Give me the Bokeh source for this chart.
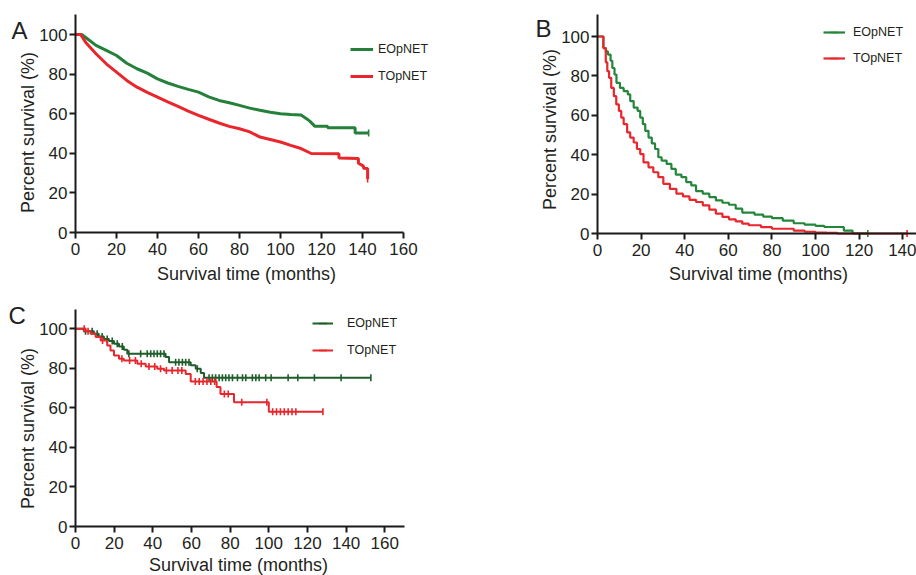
import numpy as np
from bokeh.plotting import figure
from bokeh.models import Range1d, Label, Legend, LegendItem, FixedTicker
from bokeh.layouts import column, row
from bokeh.embed import file_html
from bokeh.resources import INLINE

# ---------------- data ----------------
x_ticks_a = [0, 20, 40, 60, 80, 100, 120, 140, 160]
x_ticks_b = [0, 20, 40, 60, 80, 100, 120, 140]
x_ticks_c = [0, 20, 40, 60, 80, 100, 120, 140, 160]
y_ticks = [0, 20, 40, 60, 80, 100]
series_names = ["EOpNET", "TOpNET"]
x_title = "Survival time (months)"
y_title = "Percent survival (%)"

# Panel A (large cohorts -> near-smooth curves)
a_e_time = [0, 3, 5, 10, 15, 20, 25, 30, 35, 40, 45, 50, 55, 60, 65, 70, 75, 80, 85, 90,
            95, 100, 105, 110, 112.7, 114.4, 116.8, 123, 123, 136.4, 136.4, 143]
a_e_surv = [100, 100, 98.5, 94.5, 92, 89.4, 85.5, 82.7, 80.5, 77.6, 75.5, 73.8, 72.3, 70.9, 68.5,
            66.7, 65.5, 64.2, 62.8, 61.7, 60.7, 60, 59.6, 59.3, 57.5, 56.1, 53.6, 53.6, 52.9,
            52.9, 50.2, 50.2]
a_t_time = [0, 2.5, 5, 10, 15, 20, 25, 30, 35, 40, 45, 50, 55, 60, 65, 70, 75, 80, 85, 90,
            95, 100, 105, 110, 115, 128.5, 128.5, 138, 138, 140.5, 140.5, 142.5, 142.5]
a_t_surv = [100, 100, 96, 90.3, 85.2, 81, 76.8, 73.4, 70.8, 68.4, 66, 63.7, 61.3, 59.2, 57.2,
            55.3, 53.6, 52.4, 50.8, 48.2, 47, 45.7, 44, 42.4, 39.9, 39.8, 37.6, 37.4, 35,
            33.5, 32.4, 32.3, 27]
a_e_cens = [143]
a_t_cens = [142.5]

# Panel B (step curves)
b_e_time = [0, 2.7, 3.8, 4.8, 6, 6.8, 7.8, 8.7, 10.3, 12, 13.9, 15, 16.6, 18.4, 19.6, 20.8,
            21.9, 23.4, 24.9, 26.4, 27.9, 29.4, 31.7, 33.9, 35.9, 38.5, 40.7, 43, 45.2, 48.3,
            51.3, 54.3, 57.3, 60.3, 63.4, 66.4, 72, 76, 80, 85, 90, 95, 100, 104, 113, 117, 124]
b_e_surv = [100, 94.1, 92.4, 90.8, 87.7, 84, 80.7, 76.5, 73.9, 72.3, 70.6, 67.2, 63.9, 62.2,
            58.8, 55.5, 52.1, 48.7, 45.7, 42.9, 38.7, 37, 35.3, 32.8, 29.9, 28.6, 26.1, 24.4,
            21.5, 20.2, 18.5, 16.8, 15.6, 14.6, 12.6, 10.6, 9.6, 8.6, 7.8, 6.5, 5.2, 4.5, 3.9,
            3.3, 1.5, 0, 0]
b_t_time = [0, 2.7, 3.8, 4.5, 5.3, 6.3, 7.5, 8.6, 9.8, 10.9, 12, 13.6, 15, 16.6, 18.1, 19.6,
            21.1, 23.4, 25.6, 27.9, 30.2, 33.2, 36.2, 39.2, 42.2, 45.2, 48.3, 51.3, 54.3, 57.3,
            60.3, 63.4, 66.4, 69.4, 75, 80, 90, 95, 100, 105, 110, 142]
b_t_surv = [100, 94.1, 86.9, 82.4, 79, 73.9, 69.7, 65.5, 62.2, 58.8, 55.5, 51.3, 48.7, 46.2,
            42.9, 40.3, 36.1, 33.6, 31.1, 28.6, 25.2, 22.7, 20.2, 18.8, 17.1, 16, 14.3, 12.1,
            10.1, 8.4, 7.2, 6.2, 5, 4.2, 3.2, 2.4, 1.5, 0.9, 0.5, 0.3, 0, 0]
b_e_cens = [124]
b_t_cens = [142]

# Panel C (small cohorts, step curves with censor marks)
c_e_time = [0, 4.3, 9.5, 12, 14.7, 17.3, 19.9, 22.5, 25, 26.8, 46.6, 48.4, 59.6, 62.2, 64.8,
            66.5, 152.8]
c_e_surv = [100, 98.8, 97.5, 96.1, 94.9, 93.8, 92.4, 91.1, 89.4, 87.4, 85.7, 83.1, 81.5, 79.8,
            77.6, 75.2, 75.2]
c_t_time = [0, 5.2, 7.8, 10.4, 13, 16.4, 18.1, 19.9, 22.5, 25, 32, 36.3, 42.3, 45.8, 57, 59.6,
            73, 75, 82, 100, 128]
c_t_surv = [100, 98.8, 97.5, 95.8, 94.1, 91.6, 89, 86.5, 84.8, 84, 82.3, 80.9, 79.8, 78.9,
            77.2, 73.3, 70.5, 67, 62.8, 58, 58]
c_e_cens = [5.2, 8.6, 11.2, 13.8, 16.4, 19, 21.6, 24.2, 27.6, 33.7, 37.1, 38.9, 40.6, 42.3, 44,
            45.8, 51.8, 53.5, 55.3, 57, 58.7, 63, 69.1, 70.8, 72.5, 74.3, 76, 77.7, 79.4, 81.2,
            83.8, 86.4, 88.1, 91.5, 93.3, 95, 98.4, 101.2, 110, 115, 123.6, 137.4, 152.8]
c_t_cens = [4.5, 6.5, 14, 24, 28, 31, 34, 38, 41, 44, 47, 50, 53, 55, 62, 64, 66, 68, 70, 72,
            77, 79, 86, 99, 102, 104, 106, 108, 110, 112, 114, 128]

# ---------------- style ----------------
FONT = "Liberation Sans"
AX = "#1a1a1a"
TXT = "#231f20"
RED = "#e8262b"
GREEN_A = "#24803a"
GREEN_B = "#23863b"
GREEN_C = "#1f5e2b"


def surv_at(times, survs, t):
    idx = np.searchsorted(np.asarray(times), np.asarray(t, dtype=float), side="right") - 1
    return list(np.asarray(survs)[idx])


def base_fig(w, h, org_x, org_y, px_per_month, px_per_pct, xbound, xticks, ybound=110):
    """Frame covers the whole canvas; axes are pinned at 0 (fixed_location).
    org_x/org_y: pixel position (within the canvas, from top-left) of the data origin."""
    x_rng = Range1d(-org_x / px_per_month, (w - org_x) / px_per_month)
    y_rng = Range1d(-(h - org_y) / px_per_pct, org_y / px_per_pct)
    p = figure(width=w, height=h, output_backend="svg", toolbar_location=None,
               x_range=x_rng, y_range=y_rng,
               min_border_left=0, min_border_right=0, min_border_top=0,
               min_border_bottom=0)
    p.grid.visible = False
    p.outline_line_color = None
    p.background_fill_color = "white"
    p.border_fill_color = "white"
    for ax in (p.xaxis[0], p.yaxis[0]):
        ax.fixed_location = 0
        ax.axis_line_width = 2
        ax.axis_line_color = AX
        ax.major_tick_line_width = 2
        ax.major_tick_line_color = AX
        ax.major_tick_out = 6
        ax.major_tick_in = 0
        ax.minor_tick_line_color = None
        ax.major_label_text_font = FONT
        ax.major_label_text_font_size = "17px"
        ax.major_label_text_color = TXT
    p.xaxis.ticker = FixedTicker(ticks=xticks)
    p.yaxis.ticker = FixedTicker(ticks=y_ticks)
    p.xaxis.bounds = (0, xbound)
    p.yaxis.bounds = (0, ybound)
    p.xaxis.major_label_standoff = 4
    p.yaxis.major_label_standoff = 2
    return p


def add_curves(p, curves, smooth, lw):
    rends = []
    for (tt, ss, cens, col) in curves:
        if smooth:
            r = p.line(tt, ss, line_color=col, line_width=lw)
        else:
            r = p.step(tt, ss, mode="after", line_color=col, line_width=lw)
        m = p.scatter(cens, surv_at(tt, ss, cens), marker="dash", angle=np.pi / 2,
                      size=7, line_color=col, line_width=1.6)
        rends.append([r, m])
    return rends


def add_legend(p, rends, loc, standoff, glyph_w, spacing):
    items = [LegendItem(label=n, renderers=r) for n, r in zip(series_names, rends)]
    lg = Legend(items=items, location=loc, padding=0, margin=0, spacing=spacing,
                glyph_width=glyph_w, glyph_height=20, label_height=20,
                label_standoff=standoff, label_text_font=FONT,
                label_text_font_size="12.5px", label_text_color=TXT,
                border_line_alpha=0, background_fill_alpha=0)
    p.add_layout(lg)


def add_texts(p, letter, letter_xy, ytitle_xy, xtitle_xy):
    p.add_layout(Label(x=letter_xy[0], y=letter_xy[1], x_units="screen", y_units="screen",
                       text=letter, text_font=FONT, text_font_size="24px", text_color=TXT,
                       text_baseline="middle", text_align="left"))
    p.add_layout(Label(x=ytitle_xy[0], y=ytitle_xy[1], x_units="screen", y_units="screen",
                       text=y_title, angle=np.pi / 2, text_font=FONT,
                       text_font_size="18px", text_color=TXT,
                       text_baseline="middle", text_align="center"))
    p.add_layout(Label(x=xtitle_xy[0], y=xtitle_xy[1], x_units="screen", y_units="screen",
                       text=x_title, text_font=FONT, text_font_size="18px", text_color=TXT,
                       text_baseline="middle", text_align="center"))


# Panel A  (canvas 530 x 298)
pA = base_fig(530, 298, 75, 232, 2.05, 1.98, 160, x_ticks_a)
rA = add_curves(pA, [(a_e_time, a_e_surv, a_e_cens, GREEN_A),
                     (a_t_time, a_t_surv, a_t_cens, RED)], True, 3)
add_legend(pA, rA, (350, 212), 5, 23, 7)
add_texts(pA, "A", (11, 268), (27, 166), (246, 25))

# Panel B  (canvas 386 x 298)
pB = base_fig(386, 298, 67, 233, 2.18, 1.97, 319 / 2.18, x_ticks_b, 111)
rB = add_curves(pB, [(b_e_time, b_e_surv, b_e_cens, GREEN_B),
                     (b_t_time, b_t_surv, b_t_cens, RED)], False, 2.2)
add_legend(pB, rB, (293, 230), 8, 22, 6)
add_texts(pB, "B", (5, 270), (19, 169), (228, 25))

# Panel C  (canvas 530 x 277)
pC = base_fig(530, 277, 75, 228, 1.933, 1.977, 170, x_ticks_c)
rC = add_curves(pC, [(c_e_time, c_e_surv, c_e_cens, GREEN_C),
                     (c_t_time, c_t_surv, c_t_cens, RED)], False, 2)
add_legend(pC, rC, (312, 215), 14, 21, 7)
add_texts(pC, "C", (8, 260), (27, 147), (238, 11))

layout = column(row(pA, pB), pC)
open("out.html", "w").write(file_html(layout, INLINE))
